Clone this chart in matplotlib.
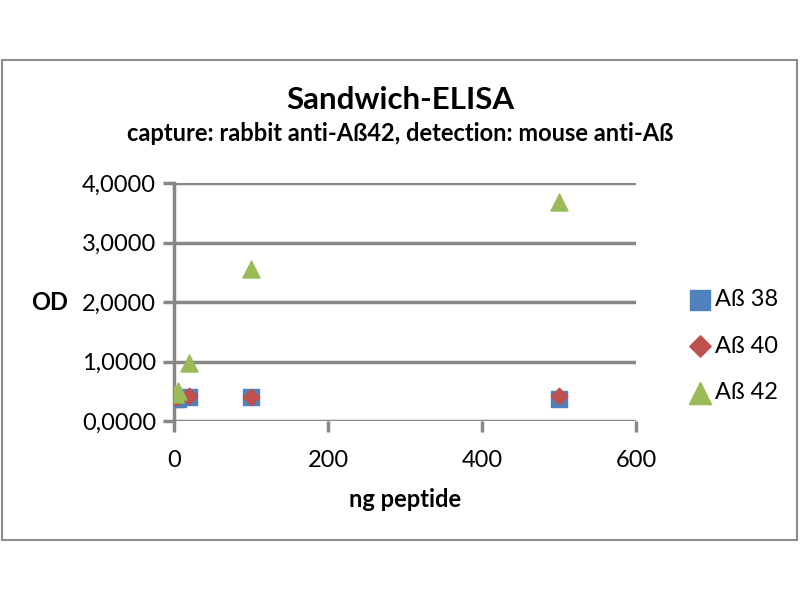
import matplotlib.pyplot as plt
from matplotlib.patches import Rectangle
from matplotlib.ticker import FuncFormatter

plt.rcParams['font.family'] = ['Lato', 'DejaVu Sans']

# data
ng = [1, 5, 20, 100, 500]
ab38 = [0.38, 0.38, 0.40, 0.40, 0.37]
ab40 = [0.40, 0.40, 0.42, 0.40, 0.42]
ab42 = [0.45, 0.50, 0.98, 2.55, 3.68]
labels = ['Aß 38', 'Aß 40', 'Aß 42']

grid_col = '#878787'

fig = plt.figure(figsize=(8, 6), dpi=100)
fig.patches.append(Rectangle((0.003, 0.1), 0.993, 0.8, transform=fig.transFigure,
                             fill=False, edgecolor='#8c8c8c', linewidth=1.5))

ax = fig.add_axes([0.2175, 0.298, 0.5775, 0.397])
ax.scatter(ng, ab38, marker='s', s=120, color='#4F81BD', label=labels[0], zorder=3)
ax.scatter(ng, ab40, marker='D', s=70, color='#C0504D', label=labels[1], zorder=3)
ax.scatter(ng, ab42, marker='^', s=150, color='#9BBB59', label=labels[2], zorder=3)

ax.set_xlim(0, 600)
ax.set_ylim(0, 4)
ax.set_xticks([0, 200, 400, 600])
ax.set_yticks([0, 1, 2, 3, 4])
ax.yaxis.set_major_formatter(FuncFormatter(lambda v, p: f'{v:.4f}'.replace('.', ',')))
ax.grid(axis='y', color=grid_col, linewidth=2.5)
ax.set_axisbelow(True)
for side in ['top', 'right', 'bottom']:
    ax.spines[side].set_visible(False)
ax.spines['left'].set_color(grid_col)
ax.spines['left'].set_linewidth(2.5)
ax.tick_params(axis='y', length=8, width=2.5, color=grid_col, labelsize=17, pad=5)
ax.tick_params(axis='x', length=8, width=2.5, color=grid_col, labelsize=17, pad=13)
ax.xaxis.set_ticks_position('bottom')

ax.set_xlabel('ng peptide', fontsize=17, fontweight='bold', labelpad=12)
ax.set_ylabel('OD', fontsize=17, fontweight='bold', rotation=0, va='center')
ax.yaxis.set_label_coords(-0.27, 0.5)

fig.text(0.5, 0.833, 'Sandwich-ELISA', ha='center', va='center', fontsize=22.5, fontweight='bold')
fig.text(0.5, 0.778, 'capture: rabbit anti-Aß42, detection: mouse anti-Aß', ha='center',
         va='center', fontsize=17, fontweight='bold')

ax.legend(loc='center left', bbox_to_anchor=(1.087, 0.315), frameon=False, fontsize=17,
          handletextpad=0.05, labelspacing=1.07, scatterpoints=1, borderaxespad=0,
          markerscale=1.3, handlelength=1.2)

fig.savefig('out.png', dpi=100)
